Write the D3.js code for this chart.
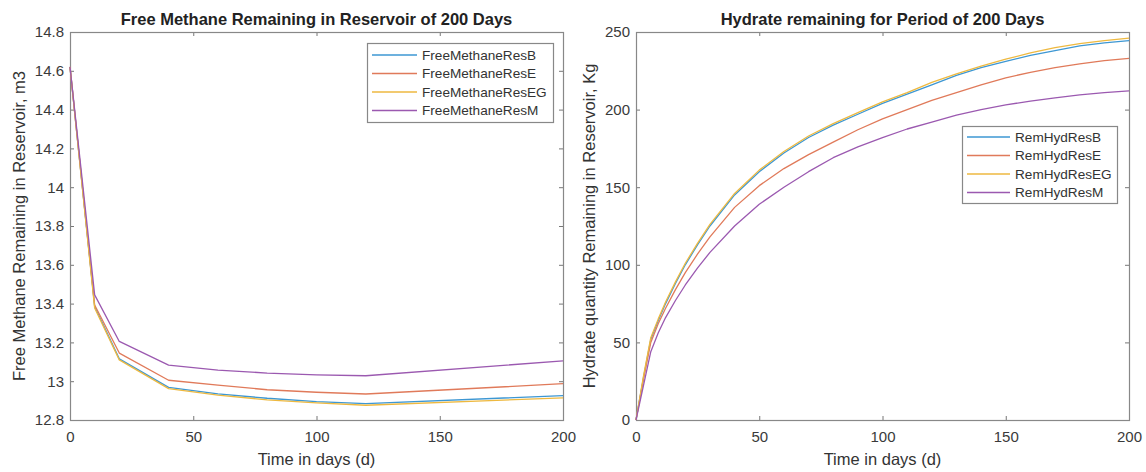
<!DOCTYPE html>
<html>
<head>
<meta charset="utf-8">
<script src="https://cdn.jsdelivr.net/npm/d3@7"></script>
<style>
  html, body { margin: 0; padding: 0; background: #fff; }
  svg { display: block; font-family: "Liberation Sans", Arial, Helvetica, sans-serif; }
</style>
</head>
<body>
<svg id="chart" width="1146" height="472"></svg>
<script>
// ---- Free methane remaining (m3) ----
const methaneDays = [0, 10, 20, 40, 60, 80, 100, 120, 200];
const freeMethaneResB  = [14.62, 13.385, 13.115, 12.968, 12.935, 12.912, 12.895, 12.884, 12.926];
const freeMethaneResE  = [14.62, 13.393, 13.145, 13.005, 12.980, 12.956, 12.943, 12.934, 12.987];
const freeMethaneResEG = [14.62, 13.377, 13.110, 12.962, 12.928, 12.904, 12.888, 12.876, 12.914];
const freeMethaneResM  = [14.62, 13.445, 13.205, 13.083, 13.057, 13.042, 13.033, 13.028, 13.105];
const methaneNames = ["FreeMethaneResB", "FreeMethaneResE", "FreeMethaneResEG", "FreeMethaneResM"];
const methaneTicksY = [12.8, 13, 13.2, 13.4, 13.6, 13.8, 14, 14.2, 14.4, 14.6, 14.8];

// ---- Hydrate remaining (Kg) ----
const hydrateDays = [0, 3, 6, 9, 12, 16, 20, 25, 30, 40, 50, 60, 70, 80, 90, 100, 110, 120, 130, 140, 150, 160, 170, 180, 190, 200];
const remHydResB  = [0, 27, 52, 64, 75, 88, 100, 113, 125, 145, 160, 172, 182, 190, 197, 204, 210, 216, 222, 227, 231, 235, 238, 241, 243, 244.5];
const remHydResE  = [0, 26, 50, 62, 72, 84, 95, 107, 118, 137, 151, 162, 171, 179, 187, 194, 200, 206, 211, 216, 220.5, 224, 227, 229.5, 231.5, 233];
const remHydResEG = [0, 28, 53, 65, 76, 89, 101, 114, 126, 146, 161, 173, 183, 191, 198, 205, 211, 217.5, 223, 228, 232.5, 236.5, 240, 242.5, 244.5, 246];
const remHydResM  = [0, 22, 44, 56, 66, 77, 87, 98, 108, 125, 139, 150, 160, 169, 176, 182, 187.5, 192, 196.5, 200, 203, 205.5, 207.5, 209.5, 211, 212];
const hydrateNames = ["RemHydResB", "RemHydResE", "RemHydResEG", "RemHydResM"];
const hydrateTicksY = [0, 50, 100, 150, 200, 250];

const dayTicks = [0, 50, 100, 150, 200];
const seriesColors = ["#3d97d3", "#e07a5a", "#eeb940", "#9b59b0"];

const svg = d3.select("#chart");

function drawPanel(cfg) {
  const { left, top, width, height } = cfg;
  const g = svg.append("g").attr("transform", `translate(${left},${top})`);

  const x = d3.scaleLinear().domain([0, 200]).range([0, width]);
  const y = d3.scaleLinear().domain(cfg.yDomain).range([height, 0]);

  const tickColor = "#3a3a3a";
  const fmt = d => String(+d.toFixed(2));

  // bottom axis with labels, ticks pointing inward
  const bottom = g.append("g").attr("transform", `translate(0,${height})`)
    .call(d3.axisBottom(x).tickValues(dayTicks).tickSize(-4).tickPadding(11).tickFormat(fmt));
  // top axis, ticks only
  const topAx = g.append("g")
    .call(d3.axisTop(x).tickValues(dayTicks).tickSize(-4).tickFormat(""));
  // left axis with labels
  const leftAx = g.append("g")
    .call(d3.axisLeft(y).tickValues(cfg.yTicks).tickSize(-4).tickPadding(6).tickFormat(fmt));
  // right axis, ticks only
  const rightAx = g.append("g").attr("transform", `translate(${width},0)`)
    .call(d3.axisRight(y).tickValues(cfg.yTicks).tickSize(-4).tickFormat(""));

  [bottom, topAx, leftAx, rightAx].forEach(a => {
    a.select(".domain").remove();
    a.selectAll(".tick line").attr("stroke", "#777").attr("stroke-width", 1);
    a.selectAll(".tick text").attr("fill", tickColor).style("font-size", "15px")
      .style("font-family", "'Liberation Sans', Arial, sans-serif");
  });

  // axes box
  g.append("rect")
    .attr("x", 0.5).attr("y", 0.5).attr("width", width).attr("height", height)
    .attr("fill", "none").attr("stroke", "#888").attr("stroke-width", 1.2);

  // series lines
  const line = d3.line().x(d => x(d[0])).y(d => y(d[1]));
  cfg.series.forEach((vals, i) => {
    const pts = cfg.days.map((t, j) => [t, vals[j]]);
    g.append("path").datum(pts)
      .attr("d", line)
      .attr("fill", "none")
      .attr("stroke", seriesColors[i])
      .attr("stroke-width", 1.3)
      .attr("stroke-linejoin", "round");
  });

  // title
  g.append("text")
    .attr("x", width / 2).attr("y", -7)
    .attr("text-anchor", "middle")
    .style("font-size", "16.5px").style("font-weight", "bold")
    .attr("fill", "#222")
    .text(cfg.title);

  // x label
  g.append("text")
    .attr("x", width / 2).attr("y", height + 45)
    .attr("text-anchor", "middle")
    .style("font-size", "16.5px")
    .attr("fill", "#333")
    .text("Time in days (d)");

  // y label
  g.append("text")
    .attr("transform", `translate(${cfg.yLabelX},${height / 2}) rotate(-90)`)
    .attr("text-anchor", "middle")
    .style("font-size", "16.5px")
    .attr("fill", "#333")
    .text(cfg.yLabel);

  // legend
  const lg = cfg.legend;
  const legend = svg.append("g").attr("transform", `translate(${lg.x},${lg.y})`);
  legend.append("rect")
    .attr("x", 0.5).attr("y", 0.5).attr("width", lg.w).attr("height", lg.h)
    .attr("fill", "#fff").attr("stroke", "#888").attr("stroke-width", 1.2);
  cfg.names.forEach((name, i) => {
    const cy = lg.first + i * 18.5;
    legend.append("line")
      .attr("x1", lg.lineX0).attr("x2", lg.lineX1)
      .attr("y1", cy).attr("y2", cy)
      .attr("stroke", seriesColors[i]).attr("stroke-width", 1.3);
    legend.append("text")
      .attr("x", lg.textX).attr("y", cy).attr("dy", "0.35em")
      .style("font-size", "13.6px")
      .attr("fill", "#333")
      .text(name);
  });
}

drawPanel({
  left: 70, top: 32, width: 493, height: 388,
  yDomain: [12.8, 14.8], yTicks: methaneTicksY,
  days: methaneDays,
  series: [freeMethaneResB, freeMethaneResE, freeMethaneResEG, freeMethaneResM],
  names: methaneNames,
  title: "Free Methane Remaining in Reservoir of 200 Days",
  yLabel: "Free Methane Remaining in Reservoir, m3",
  yLabelX: -45,
  legend: { x: 367, y: 43, w: 186, h: 79, first: 12, lineX0: 5, lineX1: 50, textX: 55 }
});

drawPanel({
  left: 636, top: 32, width: 493, height: 388,
  yDomain: [0, 250], yTicks: hydrateTicksY,
  days: hydrateDays,
  series: [remHydResB, remHydResE, remHydResEG, remHydResM],
  names: hydrateNames,
  title: "Hydrate remaining for Period of 200 Days",
  yLabel: "Hydrate quantity Remaining in Reservoir, Kg",
  yLabelX: -41,
  legend: { x: 962, y: 126, w: 155, h: 77, first: 11, lineX0: 5, lineX1: 48, textX: 53 }
});
</script>
</body>
</html>
